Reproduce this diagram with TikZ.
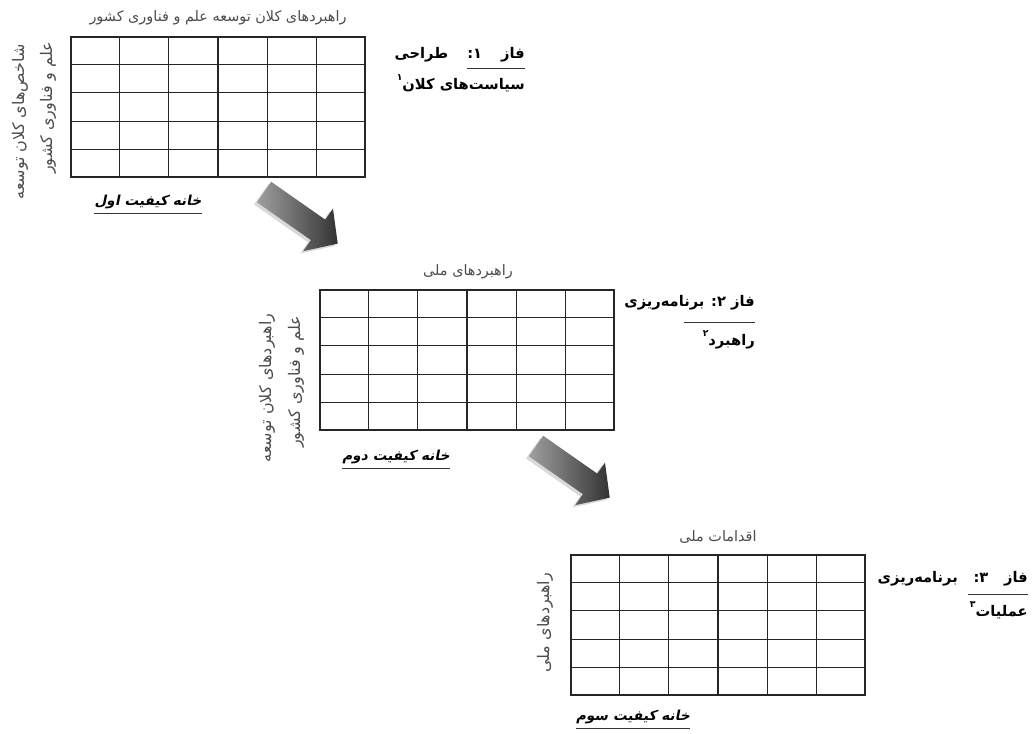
\documentclass[tikz,border=0pt]{standalone}
\usepackage{fontspec}
\usetikzlibrary{calc}
\TeXXeTstate=1
\newfontfamily\arabicfont[Script=Arabic]{DejaVu Sans}
\newfontfamily\arabicbs[Script=Arabic,FakeSlant=0.2]{DejaVu Sans Bold}
\tikzset{
  hqgrid/.style={draw=black!85, line width=0.8pt, minimum width=220.5pt, minimum height=105pt, inner sep=0pt},
  gridline/.style={draw=black!85, line width=0.8pt},
  axislabel/.style={font=\arabicfont\fontsize{10.8}{13}\selectfont, text=black!70, inner sep=0pt},
  vlabel/.style={font=\arabicfont\fontsize{12}{14}\selectfont, text=black!70, inner sep=0pt, rotate=90},
  houselabel/.style={font=\arabicbs\fontsize{10.3}{12}\selectfont, inner sep=0pt},
  phaselabel/.style={font=\arabicfont\bfseries\fontsize{11}{14}\selectfont, inner sep=0pt, anchor=east},
  rulel/.style={draw=black!80, line width=0.6pt},
  arrowbody/.style={left color=gray!75, middle color=gray!40, right color=black!80},
  arrowside/.style={fill=gray!30}
}
\newcommand{\supdigit}[1]{\raisebox{1.1ex}{\fontsize{7}{8}\selectfont #1}}
\begin{document}
\begin{tikzpicture}[x=0.75pt,y=-0.75pt]
\useasboundingbox (0,0) rectangle (1035,733);
% grids
\node[hqgrid] (g1) at (218,107) {};
\node[hqgrid] (g2) at (467,360) {};
\node[hqgrid] (g3) at (718,625) {};
\foreach \g in {g1,g2,g3}{
  \foreach \i in {1,...,5}
    \draw[gridline] ($(\g.north west)!\i/6!(\g.north east)$) -- ($(\g.south west)!\i/6!(\g.south east)$);
  \foreach \j in {1,...,4}
    \draw[gridline] ($(\g.north west)!\j/5!(\g.south west)$) -- ($(\g.north east)!\j/5!(\g.south east)$);
}
% top labels
\node[axislabel] (t1) at (218,18) {\beginR راهبردهای کلان توسعه علم و فناوری کشور\endR};
\node[axislabel] (t2) at (468,272) {\beginR راهبردهای ملی\endR};
\node[axislabel] (t3) at (718,537) {\beginR اقدامات ملی\endR};
% side labels
\node[vlabel] (l1a) at (20,122) {\beginR شاخص‌های کلان توسعه\endR};
\node[vlabel] (l1b) at (48,108) {\beginR علم و فناوری کشور\endR};
\node[vlabel] (l2a) at (267,388) {\beginR راهبردهای کلان توسعه\endR};
\node[vlabel] (l2b) at (296,382) {\beginR علم و فناوری کشور\endR};
\node[vlabel] (l3) at (545,623) {\beginR راهبردهای ملی\endR};
% house labels
\node[houselabel] (h1) at (148,202) {\beginR خانه کیفیت اول\endR};
\node[houselabel] (h2) at (396,457) {\beginR خانه کیفیت دوم\endR};
\node[houselabel] (h3) at (633,717) {\beginR خانه کیفیت سوم\endR};
\foreach \h in {h1,h2,h3}
  \draw[rulel] ($(\h.south west)+(0,4)$) -- ($(\h.south east)+(0,4)$);
% phase labels
\node[phaselabel] (p1a) at (525,55) {\hbox to 97.5pt{\beginR فاز\hfill ۱:\hfill طراحی\endR}};
\node[phaselabel] (p1b) at (525,83) {\beginR سیاست‌های کلان\supdigit{۱}\endR};
\draw[rulel] ($(p1a.east)+(0,13)$) -- ($(p1a.east)+(-58,13)$);
\node[phaselabel] (p2a) at (755,303) {\beginR فاز ۲: برنامه‌ریزی\endR};
\node[phaselabel] (p2b) at (755,340) {\beginR راهبرد\supdigit{۲}\endR};
\draw[rulel] ($(p2a.east)+(0,19)$) -- ($(p2a.east)+(-71,19)$);
\node[phaselabel] (p3a) at (1028,579) {\hbox to 112.5pt{\beginR فاز\hfill ۳:\hfill برنامه‌ریزی\endR}};
\node[phaselabel] (p3b) at (1028,610) {\beginR عملیات\supdigit{۳}\endR};
\draw[rulel] ($(p3a.east)+(0,15)$) -- ($(p3a.east)+(-60,15)$);
% block arrows
\coordinate (a1) at (264,192);
\coordinate (a2) at (536,446);
\foreach \a in {a1,a2}{
  \begin{scope}[shift={(\a)}, rotate=-35]
    \fill[arrowside, shift={(-1,3.5)}] (0,12.5) -- (66,12.5) -- (66,26) -- (90,0) -- (66,-26) -- (66,-12.5) -- (0,-12.5) -- cycle;
    \shade[arrowbody] (0,12.5) -- (66,12.5) -- (66,26) -- (90,0) -- (66,-26) -- (66,-12.5) -- (0,-12.5) -- cycle;
  \end{scope}
}
\end{tikzpicture}
\end{document}
